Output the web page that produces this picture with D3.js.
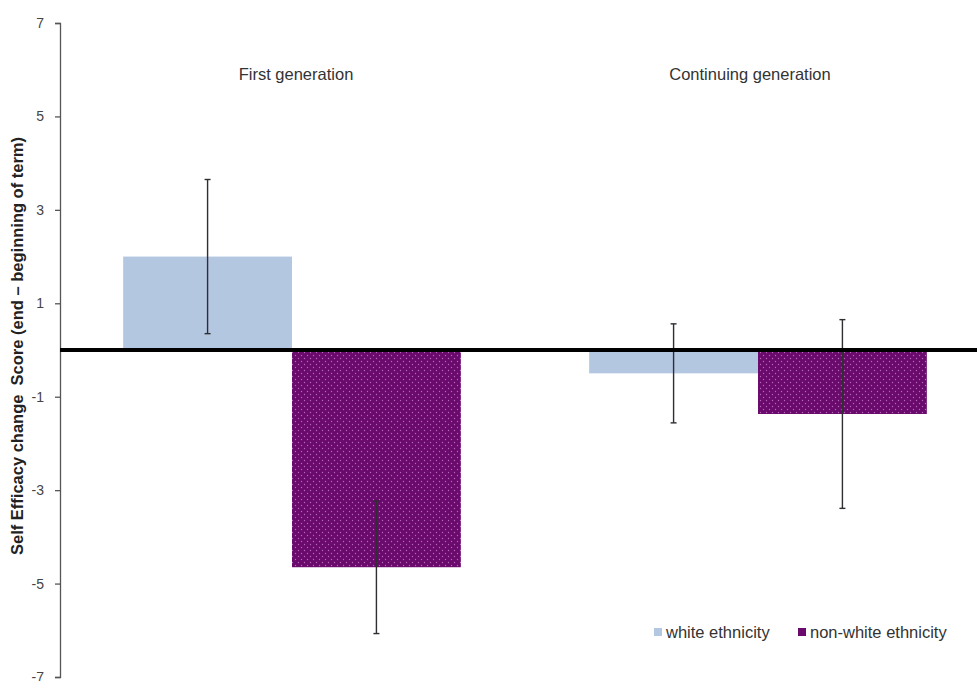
<!DOCTYPE html>
<html>
<head>
<meta charset="utf-8">
<script src="https://cdn.jsdelivr.net/npm/d3@7"></script>
<style>
  html, body { margin: 0; padding: 0; background: #fff; }
  svg { display: block; }
</style>
</head>
<body>
<svg id="chart" width="977" height="681"></svg>
<script>
// Groups and series
const groups = ["First generation", "Continuing generation"];
const seriesNames = ["white ethnicity", "non-white ethnicity"];
// Mean change score per group, one array per series
const whiteMeans = [2.0, -0.5];
const nonWhiteMeans = [-4.65, -1.37];
// Error bar half-widths
const whiteErr = [1.65, 1.06];
const nonWhiteErr = [1.42, 2.02];
// Y axis ticks
const yTicks = [-7, -5, -3, -1, 1, 3, 5, 7];

const svg = d3.select("#chart");
const W = 977, H = 681;
const FONT = "Liberation Sans, Arial, sans-serif";

const y = d3.scaleLinear().domain([-7, 7]).range([677, 23]);
const x0 = d3.scaleBand().domain(groups).range([59, 991]).paddingInner(0).paddingOuter(0);
const x1 = d3.scaleBand().domain(seriesNames).range([0, x0.bandwidth()]).paddingInner(0).paddingOuter(0.38);

const colors = { "white ethnicity": "#b4c7e1", "non-white ethnicity": "#6a0a6c" };

// Dotted fill for the non-white bars
const defs = svg.append("defs");
const pat = defs.append("pattern")
  .attr("id", "dots").attr("patternUnits", "userSpaceOnUse")
  .attr("width", 6).attr("height", 6);
pat.append("rect").attr("width", 6).attr("height", 6).attr("fill", colors["non-white ethnicity"]);
pat.append("circle").attr("cx", 1.5).attr("cy", 1.5).attr("r", 0.7).attr("fill", "#b56ab8");
pat.append("circle").attr("cx", 4.5).attr("cy", 4.5).attr("r", 0.7).attr("fill", "#b56ab8");

const data = [];
groups.forEach((g, i) => {
  data.push({ group: g, series: seriesNames[0], value: whiteMeans[i], err: whiteErr[i] });
  data.push({ group: g, series: seriesNames[1], value: nonWhiteMeans[i], err: nonWhiteErr[i] });
});

// Bars
svg.append("g").selectAll("rect").data(data).join("rect")
  .attr("x", d => x0(d.group) + x1(d.series))
  .attr("width", x1.bandwidth())
  .attr("y", d => y(Math.max(0, d.value)))
  .attr("height", d => Math.abs(y(d.value) - y(0)))
  .attr("fill", d => d.series === seriesNames[0] ? colors[d.series] : "url(#dots)");

// Error bars
const eb = svg.append("g").attr("stroke", "#2e2e33").attr("stroke-width", 1.4);
data.forEach(d => {
  const cx = x0(d.group) + x1(d.series) + x1.bandwidth() / 2;
  const top = y(d.value + d.err), bot = y(d.value - d.err);
  eb.append("line").attr("x1", cx).attr("x2", cx).attr("y1", top).attr("y2", bot);
  eb.append("line").attr("x1", cx - 3).attr("x2", cx + 3).attr("y1", top).attr("y2", top);
  eb.append("line").attr("x1", cx - 3).attr("x2", cx + 3).attr("y1", bot).attr("y2", bot);
});

// Y axis
const yAxis = svg.append("g").attr("transform", "translate(60,0)")
  .call(d3.axisLeft(y).tickValues(yTicks).tickSize(5).tickPadding(11).tickFormat(d => String(d)));
yAxis.select(".domain").attr("stroke", "#555").attr("stroke-width", 1.3);
yAxis.selectAll(".tick line").attr("stroke", "#555").attr("stroke-width", 1.3);
yAxis.selectAll(".tick text")
  .attr("fill", "#444").style("font-family", FONT).style("font-size", "14px");

// Zero line
svg.append("line")
  .attr("x1", 60).attr("x2", W).attr("y1", y(0)).attr("y2", y(0))
  .attr("stroke", "#000").attr("stroke-width", 4);

// Group labels
const labelShift = [4, -8];
svg.append("g").selectAll("text").data(groups).join("text")
  .attr("x", (g, i) => x0(g) + x0.bandwidth() / 2 + labelShift[i])
  .attr("y", 80)
  .attr("text-anchor", "middle")
  .attr("fill", "#333")
  .style("font-family", FONT)
  .style("font-size", "16.5px")
  .text(g => g);

// Y axis title
svg.append("text")
  .attr("transform", "translate(23,346) rotate(-90)")
  .attr("text-anchor", "middle")
  .attr("fill", "#222")
  .style("font-family", FONT)
  .style("font-size", "16.5px")
  .style("font-weight", "bold")
  .style("white-space", "pre")
  .text("Self Efficacy change  Score (end \u2013 beginning of term)");

// Legend
const legendX = [654, 798];
const leg = svg.append("g");
seriesNames.forEach((s, i) => {
  leg.append("rect").attr("x", legendX[i]).attr("y", 628).attr("width", 8).attr("height", 8)
    .attr("fill", colors[s]);
  leg.append("text").attr("x", legendX[i] + 12).attr("y", 638)
    .attr("fill", "#333")
    .style("font-family", FONT)
    .style("font-size", "16.5px")
    .text(s);
});
</script>
</body>
</html>
